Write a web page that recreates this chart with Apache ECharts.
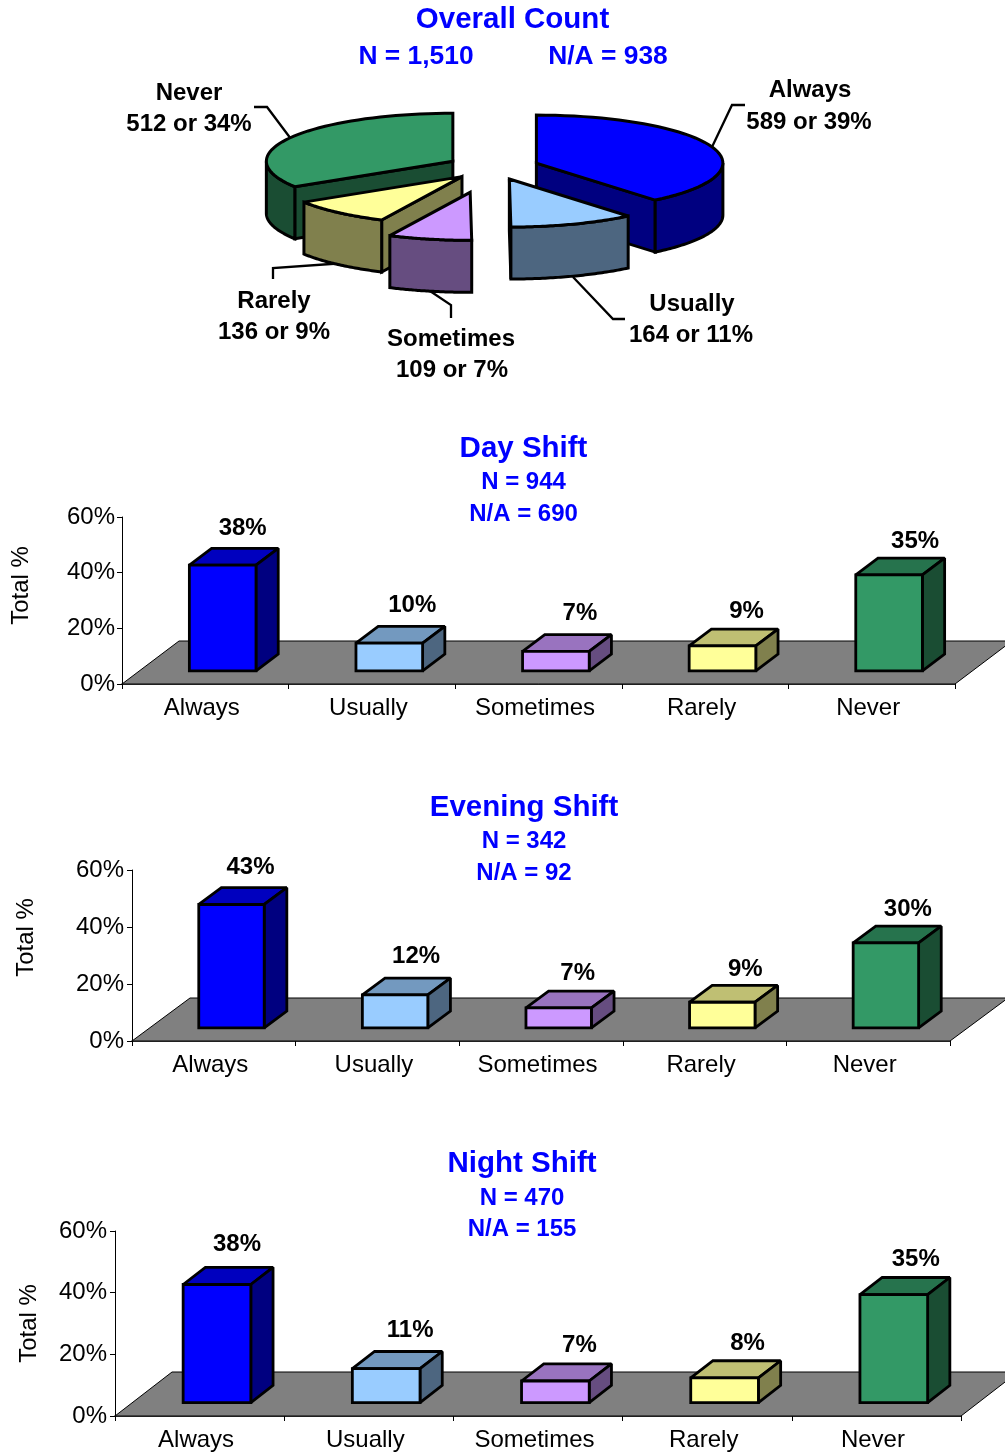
<!DOCTYPE html>
<html><head><meta charset="utf-8">
<style>html,body{margin:0;padding:0;background:#fff}#c{width:1005px;height:1454px}</style>
<script src="https://cdn.jsdelivr.net/npm/echarts@6/dist/echarts.min.js"></script>
</head><body><div id="c"></div>
<script>
const categories = ['Always','Usually','Sometimes','Rarely','Never'];
const pieCounts = [589,164,109,136,512];
const pieExplode = [1,1,2.05,1,1];
const dayValues = [38,10,7,9,34.5];
const eveningValues = [43.3,11.6,7,9,29.8];
const nightValues = [38.3,11,7,8,35];
const axisTicks = [0,20,40,60];
const colors = ['#0000FF','#99CCFF','#CC99FF','#FFFF99','#339966'];

const FONT = '"Liberation Sans", Arial, sans-serif';
const BLUE = '#0000FF';
function shade(hex, f){
  const n = parseInt(hex.slice(1),16);
  const c = s => Math.round(((n>>s)&255)*f);
  return `rgb(${c(16)},${c(8)},${c(0)})`;
}

// ---- layout ----
const panels = [
  {values:dayValues, left:122, right:955, top:517, bottom:684, floor:[57,43], nameShift:30, nameGap:89, labelMargin:7,
   labelNudge:[[-2,0],[1,-1],[2,-1],[2,2],[4,3]],
   title:['Day Shift','N = 944','N/A = 690'], tx:523.5, ty:[447,481,513]},
  {values:eveningValues, left:132, right:950, top:870, bottom:1041, floor:[58,43], nameShift:36, nameGap:94, labelMargin:8,
   labelNudge:[[-3,0],[-1,-2],[-3,2],[1,4],[0,3]],
   title:['Evening Shift','N = 342','N/A = 92'], tx:524, ty:[806,840,872]},
  {values:nightValues, left:115, right:961, top:1231, bottom:1416, floor:[57,44], nameShift:0, nameGap:74, labelMargin:8,
   labelNudge:[[-2,-3],[2,-1],[2,2],[1,3],[0,2]],
   title:['Night Shift','N = 470','N/A = 155'], tx:522, ty:[1162,1197,1228]}
];
const pieGeom = {cx:492.6, cy:167.3, ex:46, ey:12.5, rx:186.5, ry:48, depth:52};
const pieSliceShiftX = [0.5,1,-2,0,0.5];
const pieDrawRank = [1,2,4,3,0];
const pieLabelPos = [[810,90,809,122],[692,304,691,335],[451,339,452,370],[274,301,274,332],[189,93,189,124]];
const pieLeaders = [
  [[712,147],[732,105],[745,105]],
  [[573,277],[613,319],[625,319]],
  [[430,291],[451,305],[451,318]],
  [[345,263],[273,268],[273,279]],
  [[291,139],[267,107],[254,107]]
];

const titles = [];
function addTitle(text,x,y,size){
  titles.push({text,left:x,top:y-size/2+1.5,textAlign:'center',padding:0,
    textStyle:{fontFamily:FONT,fontSize:size,fontWeight:'bold',color:BLUE,lineHeight:size}});
}
addTitle('Overall Count',512.5,18,29.5);
addTitle('N = 1,510',416,55,26.4);
addTitle('N/A = 938',608,55,26.4);
panels.forEach(p=>{
  addTitle(p.title[0],p.tx,p.ty[0],29.5);
  addTitle(p.title[1],p.tx,p.ty[1],24);
  addTitle(p.title[2],p.tx,p.ty[2],24);
});

function poly(points,fill,z2,lw){
  return {type:'polygon',z2,shape:{points},style:{fill,stroke:'#000',lineWidth:lw==null?2.8:lw,lineJoin:'miter',miterLimit:2}};
}

function renderBar(panel){
  return function(params,api){
    const i = api.value(0), v = api.value(1);
    const top = api.coord([i,v]), base = api.coord([i,0]);
    const band = api.size([1,0])[0];
    const w = band*0.4, sx = panel.floor[0]*0.305, sy = panel.floor[1]*0.305;
    const dx = panel.floor[0]*0.39, dy = panel.floor[1]*0.39;
    const l = base[0]+sx-w/2, r = l+w, b = base[1]-sy, t = top[1]-sy;
    const c = colors[i], nudge = panel.labelNudge[i];
    return {type:'group',children:[
      poly([[l,t],[r,t],[r+dx,t-dy],[l+dx,t-dy]],shade(c,0.75),1),
      poly([[r,t],[r+dx,t-dy],[r+dx,b-dy],[r,b]],shade(c,0.5),2),
      poly([[l,t],[r,t],[r,b],[l,b]],c,3),
      {type:'text',z2:5,style:{text:Math.round(v)+'%',x:l+w/2+22+nudge[0],y:t-dy-20+nudge[1],align:'center',verticalAlign:'middle',
        font:'bold 24px '+FONT,fill:'#000'}}
    ]};
  };
}
function renderFloor(panel){
  return function(params){
    const s = params.coordSys, y = s.y+s.height, x = s.x;
    const [dx,dy] = panel.floor;
    return poly([[x,y],[x+s.width,y],[x+s.width+dx,y-dy],[x+dx,y-dy]],'#808080',0,1);
  };
}

const pieTotal = pieCounts.reduce((a,b)=>a+b,0);
function renderPie(params,api){
  const i = params.dataIndex, v = api.value(0), g = pieGeom;
  const before = pieCounts.slice(0,i).reduce((a,b)=>a+b,0);
  const a0 = before/pieTotal*2*Math.PI, a1 = (before+v)/pieTotal*2*Math.PI, m = (a0+a1)/2;
  const ax = g.cx+g.ex*pieExplode[i]*Math.sin(m)+pieSliceShiftX[i], ay = g.cy-g.ey*pieExplode[i]*Math.cos(m);
  const pt = (t,d)=>[ax+g.rx*Math.sin(t), ay-g.ry*Math.cos(t)+(d||0)];
  const arc = (s,e,d)=>{const o=[],n=48;for(let k=0;k<=n;k++)o.push(pt(s+(e-s)*k/n,d));return o;};
  const base = 10+pieDrawRank[i]*10, side = shade(colors[i],0.5), kids = [];
  [a0,a1].forEach(t=>{
    const R=[g.rx*Math.sin(t),-g.ry*Math.cos(t)], M=[g.rx*Math.sin(m),-g.ry*Math.cos(m)];
    if(Math.abs(R[0])<1) return;
    if(M[1] < R[1]/R[0]*M[0]){
      const e=pt(t);
      kids.push(poly([[ax,ay],e,[e[0],e[1]+g.depth],[ax,ay+g.depth]],side,base,3));
    }
  });
  const s=Math.max(a0,Math.PI/2), e=Math.min(a1,3*Math.PI/2);
  if(e>s) kids.push(poly(arc(s,e,0).concat(arc(s,e,g.depth).reverse()),side,base+1,3));
  kids.push(poly([[ax,ay]].concat(arc(a0,a1,0)),colors[i],base+2,3));
  kids.push({type:'polyline',z2:1,shape:{points:pieLeaders[i]},style:{fill:'none',stroke:'#000',lineWidth:2.3}});
  const lp = pieLabelPos[i];
  const txt=(text,x,y)=>({type:'text',z2:90,style:{text,x,y,align:'center',verticalAlign:'middle',font:'bold 24px '+FONT,fill:'#000'}});
  kids.push(txt(categories[i],lp[0],lp[1]));
  kids.push(txt(v+' or '+Math.round(v/pieTotal*100)+'%',lp[2],lp[3]));
  return {type:'group',children:kids};
}

const grid=[],xAxis=[],yAxis=[],series=[];
panels.forEach((p,i)=>{
  grid.push({left:p.left,top:p.top,width:p.right-p.left,height:p.bottom-p.top,containLabel:false});
  xAxis.push({type:'category',gridIndex:i,data:categories,
    axisLine:{show:true,onZero:false,lineStyle:{color:'#000',width:1.5}},
    axisTick:{show:true,length:5,alignWithLabel:false,lineStyle:{color:'#000'}},
    axisLabel:{show:true,interval:0,margin:12,color:'#000',fontFamily:FONT,fontSize:24,padding:[0,7,0,0]},
    splitLine:{show:false}});
  yAxis.push({type:'value',gridIndex:i,min:axisTicks[0],max:axisTicks[axisTicks.length-1],interval:axisTicks[1]-axisTicks[0],
    name:'Total %',nameLocation:'middle',nameRotate:90,nameGap:p.nameGap,
    nameTextStyle:{color:'#000',fontFamily:FONT,fontSize:24,padding:[0,0,0,p.nameShift]},
    axisLine:{show:true,lineStyle:{color:'#000',width:1}},
    axisTick:{show:true,length:5,lineStyle:{color:'#000'}},
    axisLabel:{margin:p.labelMargin,color:'#000',fontFamily:FONT,fontSize:24,lineHeight:26,padding:[3,0,0,0],formatter:'{value}%'},
    splitLine:{show:false}});
  series.push({type:'custom',xAxisIndex:i,yAxisIndex:i,z:1,silent:true,clip:false,renderItem:renderFloor(p),data:[[0,0]],encode:{x:0,y:1}});
  series.push({type:'custom',xAxisIndex:i,yAxisIndex:i,z:2,silent:true,clip:false,renderItem:renderBar(p),
    data:categories.map((c,k)=>[c,p.values[k]]),encode:{x:0,y:1}});
});
series.push({type:'custom',coordinateSystem:'none',z:3,silent:true,renderItem:renderPie,data:pieCounts.map(v=>[v])});

const chart = echarts.init(document.getElementById('c'),null,{width:1005,height:1454});
chart.setOption({animation:false,backgroundColor:'#fff',textStyle:{fontFamily:FONT},title:titles,grid,xAxis,yAxis,series});
</script></body></html>
